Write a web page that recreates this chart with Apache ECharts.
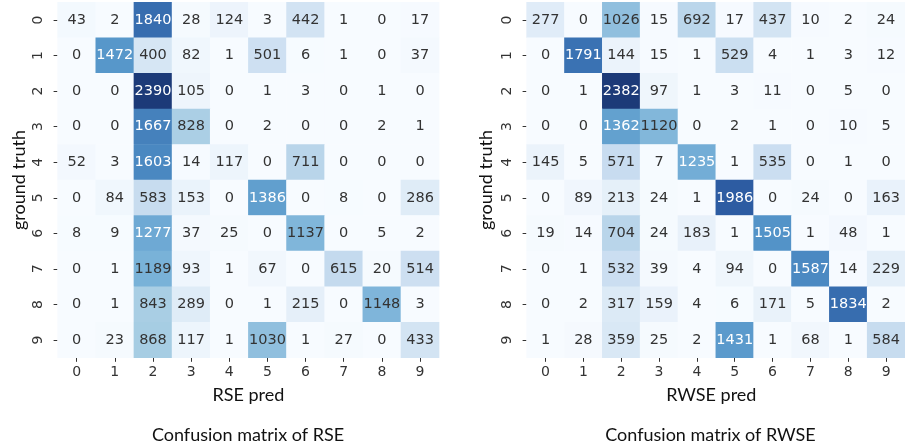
<!DOCTYPE html>
<html>
<head>
<meta charset="utf-8">
<script src="https://cdn.jsdelivr.net/npm/echarts@6/dist/echarts.min.js"></script>
<style>
  html, body { margin: 0; padding: 0; background: #ffffff; }
  #chart { width: 905px; height: 447px; }
</style>
</head>
<body>
<div id="chart"></div>
<script>
// Class labels shared by both axes of each matrix
const classLabels = ['0', '1', '2', '3', '4', '5', '6', '7', '8', '9'];

// Confusion matrix of RSE (rows = ground truth, columns = prediction)
const rseMatrix = [
  [43, 2, 1840, 28, 124, 3, 442, 1, 0, 17],
  [0, 1472, 400, 82, 1, 501, 6, 1, 0, 37],
  [0, 0, 2390, 105, 0, 1, 3, 0, 1, 0],
  [0, 0, 1667, 828, 0, 2, 0, 0, 2, 1],
  [52, 3, 1603, 14, 117, 0, 711, 0, 0, 0],
  [0, 84, 583, 153, 0, 1386, 0, 8, 0, 286],
  [8, 9, 1277, 37, 25, 0, 1137, 0, 5, 2],
  [0, 1, 1189, 93, 1, 67, 0, 615, 20, 514],
  [0, 1, 843, 289, 0, 1, 215, 0, 1148, 3],
  [0, 23, 868, 117, 1, 1030, 1, 27, 0, 433]
];

// Confusion matrix of RWSE
const rwseMatrix = [
  [277, 0, 1026, 15, 692, 17, 437, 10, 2, 24],
  [0, 1791, 144, 15, 1, 529, 4, 1, 3, 12],
  [0, 1, 2382, 97, 1, 3, 11, 0, 5, 0],
  [0, 0, 1362, 1120, 0, 2, 1, 0, 10, 5],
  [145, 5, 571, 7, 1235, 1, 535, 0, 1, 0],
  [0, 89, 213, 24, 1, 1986, 0, 24, 0, 163],
  [19, 14, 704, 24, 183, 1, 1505, 1, 48, 1],
  [0, 1, 532, 39, 4, 94, 0, 1587, 14, 229],
  [0, 2, 317, 159, 4, 6, 171, 5, 1834, 2],
  [1, 28, 359, 25, 2, 1431, 1, 68, 1, 584]
];

const xNames = ['RSE pred', 'RWSE pred'];
const captions = ['Confusion matrix of RSE', 'Confusion matrix of RWSE'];

// Sequential soft-blue palette (light -> dark)
const blues = ['#f7fbff', '#deebf7', '#c6dbef', '#a3cbe2', '#78b1d8',
               '#5495c9', '#3a72b3', '#27519a', '#1c3a78'];

const numFont = 'DejaVu Sans';
const textFont = 'Lato';
const darkText = '#333333';

function toCells(matrix) {
  let maxV = 0;
  matrix.forEach(r => r.forEach(v => { if (v > maxV) maxV = v; }));
  const cells = [];
  matrix.forEach((row, yi) => {
    row.forEach((v, xi) => {
      cells.push({
        value: [xi, yi, v],
        label: { color: v > maxV * 0.5 ? '#ffffff' : darkText }
      });
    });
  });
  return { cells, maxV };
}

const mats = [rseMatrix, rwseMatrix].map(toCells);

const gridLeft = [57.6, 526.6];
const gridW = 381.5;
const gridTop = 2.2;
const gridH = 355.6;

const grids = gridLeft.map(l => ({ left: l, top: gridTop, width: gridW, height: gridH }));

const xAxes = [0, 1].map(i => ({
  type: 'category',
  gridIndex: i,
  data: classLabels,
  position: 'bottom',
  axisLine: { show: false },
  axisTick: { show: true, alignWithLabel: true, length: 4, lineStyle: { color: darkText, width: 1 } },
  axisLabel: { color: darkText, fontFamily: numFont, fontSize: 14, margin: 8 },
  splitLine: { show: false },
  name: xNames[i],
  nameLocation: 'middle',
  nameGap: 28,
  nameTextStyle: {
    color: '#111111', fontFamily: textFont, fontSize: 18,
    padding: i === 1 ? [0, 9, 0, 0] : 0
  }
}));

const yAxes = [0, 1].map(i => ({
  type: 'category',
  gridIndex: i,
  data: classLabels,
  inverse: true,
  axisLine: { show: false },
  axisTick: { show: true, alignWithLabel: true, length: 4, lineStyle: { color: darkText, width: 1 } },
  axisLabel: { color: darkText, fontFamily: numFont, fontSize: 14, rotate: 90, margin: 12 },
  splitLine: { show: false },
  name: 'ground truth',
  nameLocation: 'middle',
  nameRotate: 90,
  nameGap: i === 0 ? 29 : 31,
  nameTextStyle: { color: '#111111', fontFamily: textFont, fontSize: 18 }
}));

const visualMaps = [0, 1].map(i => ({
  type: 'continuous',
  seriesIndex: i,
  show: false,
  min: 0,
  max: mats[i].maxV,
  dimension: 2,
  inRange: { color: blues }
}));

const series = [0, 1].map(i => ({
  type: 'heatmap',
  xAxisIndex: i,
  yAxisIndex: i,
  data: mats[i].cells,
  label: {
    show: true,
    fontFamily: numFont,
    fontSize: 14.5,
    formatter: p => String(p.value[2])
  },
  itemStyle: { borderWidth: 0 },
  emphasis: { disabled: true }
}));

const chart = echarts.init(document.getElementById('chart'), null, { renderer: 'canvas' });
chart.setOption({
  backgroundColor: '#ffffff',
  animation: false,
  grid: grids,
  xAxis: xAxes,
  yAxis: yAxes,
  visualMap: visualMaps,
  series: series,
  graphic: [
    {
      type: 'text', x: 248, y: 435,
      style: { text: captions[0], fontFamily: textFont, fontSize: 18, fill: '#111111',
               textAlign: 'center', textVerticalAlign: 'middle' }
    },
    {
      type: 'text', x: 710.5, y: 435,
      style: { text: captions[1], fontFamily: textFont, fontSize: 18, fill: '#111111',
               textAlign: 'center', textVerticalAlign: 'middle' }
    }
  ]
});
</script>
</body>
</html>
